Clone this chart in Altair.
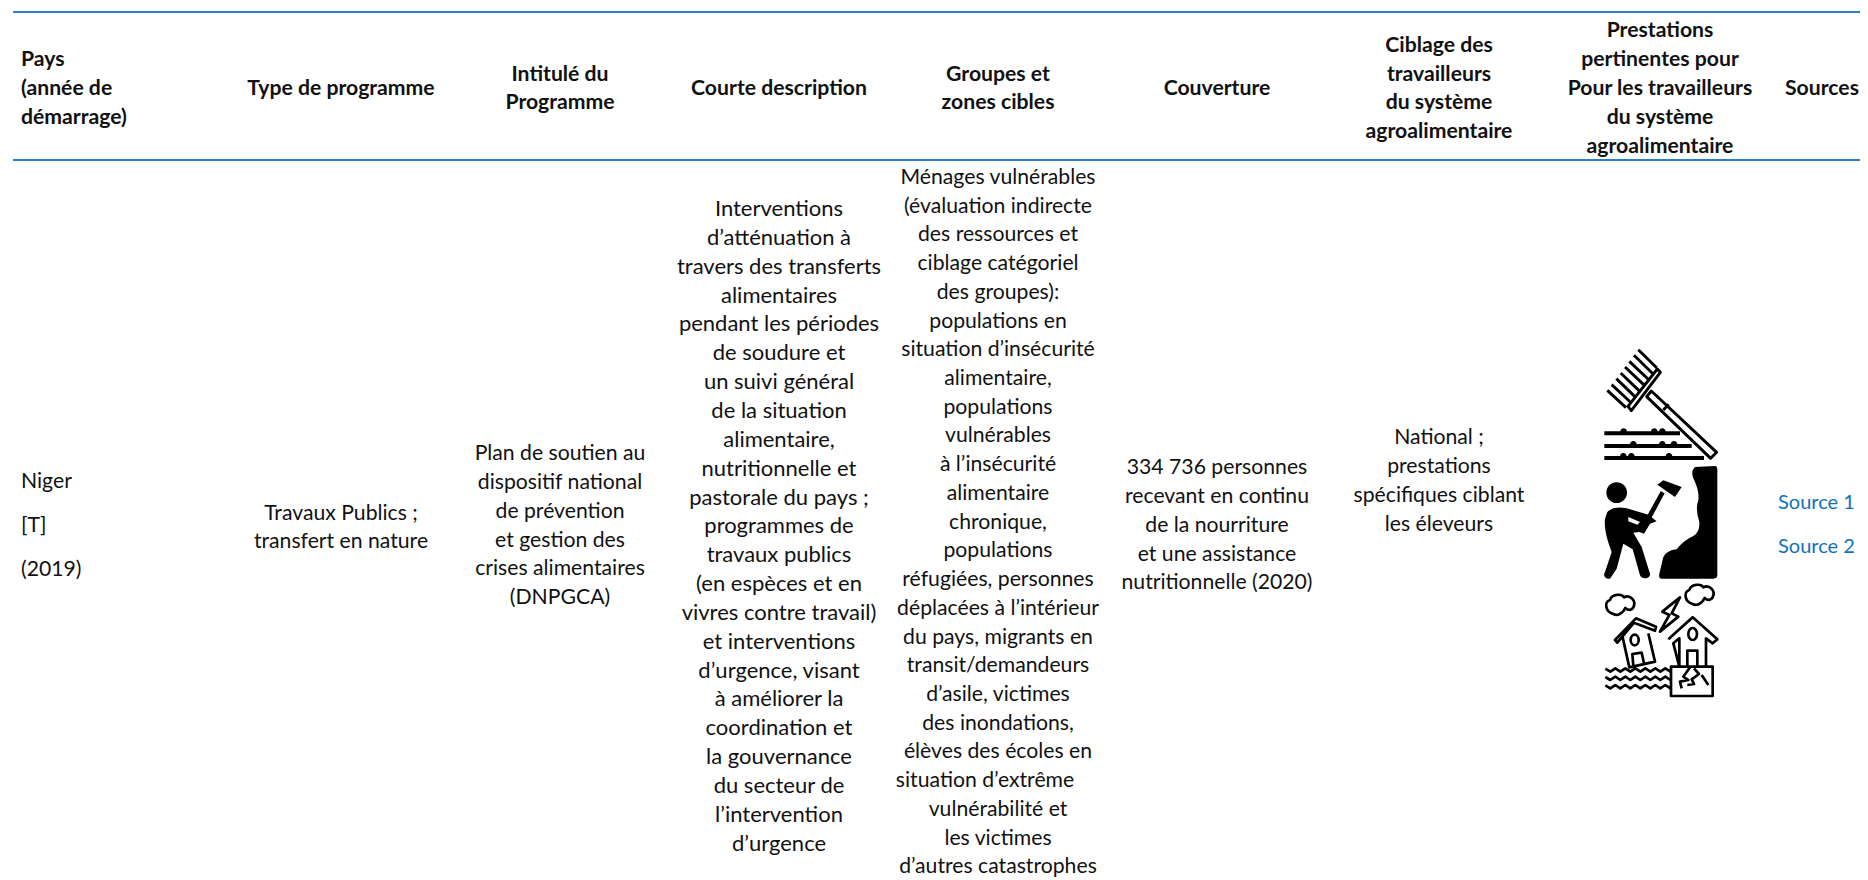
import altair as alt
import pandas as pd

# ---------- table content ----------
headers = [
    ["Pays", "(année de", "démarrage)"],
    ["Type de programme"],
    ["Intitulé du", "Programme"],
    ["Courte description"],
    ["Groupes et", "zones cibles"],
    ["Couverture"],
    ["Ciblage des", "travailleurs", "du système", "agroalimentaire"],
    ["Prestations", "pertinentes pour", "Pour les travailleurs", "du système", "agroalimentaire"],
    ["Sources"],
]
pays = ["Niger", "[T]", "(2019)"]
type_programme = ["Travaux Publics ;", "transfert en nature"]
intitule = ["Plan de soutien au", "dispositif national", "de prévention", "et gestion des",
            "crises alimentaires", "(DNPGCA)"]
description = ["Interventions", "d’atténuation à", "travers des transferts", "alimentaires",
               "pendant les périodes", "de soudure et", "un suivi général", "de la situation",
               "alimentaire,", "nutritionnelle et", "pastorale du pays ;", "programmes de",
               "travaux publics", "(en espèces et en", "vivres contre travail)", "et interventions",
               "d’urgence, visant", "à améliorer la", "coordination et", "la gouvernance",
               "du secteur de", "l’intervention", "d’urgence"]
groupes = ["Ménages vulnérables", "(évaluation indirecte", "des ressources et", "ciblage catégoriel",
           "des groupes):", "populations en", "situation d’insécurité", "alimentaire,", "populations",
           "vulnérables", "à l’insécurité", "alimentaire", "chronique,", "populations",
           "réfugiées, personnes", "déplacées à l’intérieur", "du pays, migrants en",
           "transit/demandeurs", "d’asile, victimes", "des inondations,", "élèves des écoles en",
           "situation d’extrême", "vulnérabilité et", "les victimes", "d’autres catastrophes"]
couverture = ["334 736 personnes", "recevant en continu", "de la nourriture",
              "et une assistance", "nutritionnelle (2020)"]
ciblage = ["National ;", "prestations", "spécifiques ciblant", "les éleveurs"]
sources = ["Source 1", "Source 2"]

# ---------- layout (page pixels) ----------
STEP = 28.85
FONT = "Lato"
FS = 21.2
INK = "#111111"
BLUE = "#2a7fc6"
LINK = "#0f71bb"
header_x = [21, 341, 560, 779, 998, 1217, 1439, 1660, 1822]
header_mid = 89


def block(lines, x, y0, step=STEP):
    return [{"x": x, "y": y0 + i * step, "t": t} for i, t in enumerate(lines)]


head_rows = []
for col, lines in enumerate(headers):
    y0 = header_mid - (len(lines) - 1) * STEP / 2
    head_rows += block(lines, header_x[col], y0)
head_left = pd.DataFrame([r for r in head_rows if r["x"] == 21])
head_mid = pd.DataFrame([r for r in head_rows if r["x"] != 21])

body_left = pd.DataFrame(block(pays, 21, 482, 44))
body_mid_rows = (
    block(type_programme, 341, 514, 28)
    + block(intitule, 560, 454)
    + block(groupes, 998, 178, 28.72)
    + block(couverture, 1217, 468)
    + block(ciblage, 1439, 438)
)
for r in body_mid_rows:
    if r["t"] == "situation d’extrême":
        r["x"] = 985
body_mid = pd.DataFrame(body_mid_rows)
body_desc = pd.DataFrame(block(description, 779, 209))
links = pd.DataFrame(block(sources, 1778, 503, 44))

X = alt.X("x:Q", scale=alt.Scale(domain=[8, 1860], nice=False, zero=False), axis=None)
Y = alt.Y("y:Q", scale=alt.Scale(domain=[880, 8], nice=False, zero=False), axis=None)


def text(df, align="center", bold=False, color=INK, size=FS):
    return alt.Chart(df).mark_text(
        font=FONT, fontSize=size, align=align, baseline="middle", color=color,
        fontWeight="bold" if bold else "normal",
    ).encode(x=X, y=Y, text="t:N")


rules = alt.Chart(pd.DataFrame({"x": [13, 13], "x2": [1860, 1860], "y": [12, 160]})).mark_rule(
    color=BLUE, strokeWidth=2
).encode(x=X, x2="x2:Q", y=Y)


# ---------- pictograms: SVG paths, 3 path units = 1 pixel ----------
def dot(x, y, r):
    return f"M{x-r} {y}a{r} {r} 0 1 1 {2*r} 0a{r} {r} 0 1 1 {-2*r} 0Z"


def ell(x, y, rx, ry):
    return f"M{x-rx} {y}a{rx} {ry} 0 1 1 {2*rx} 0a{rx} {ry} 0 1 1 {-2*rx} 0Z"


def zig(y, x0=16, x1=200, p=30):
    s = f"M{x0} {y-4}"
    x = x0
    up = False
    while x < x1:
        x += p / 2
        s += f"L{x} {y + (-5 if up else 5)}"
        up = not up
    return s


tines = "".join(
    f"M{115-93*i/7:.0f} {14+122*i/7:.0f}L{170-92*i/7:.0f} {68+120*i/7:.0f}" for i in range(8)
)
rake_stroke = (
    "M172 72L181 82L94 197L84 184Z"
    "M154 138L350 322L332 340L140 155Z"
    "M190 195L206 178"
    + tines
)
furrows = "M13 259H240V271H13ZM13 297H275V309H13ZM13 333H312V345H13Z"
clods = "".join(dot(x, y, 10) for x, y in [(71, 260), (163, 260), (187, 260),
                                            (100, 298), (187, 298), (222, 298),
                                            (70, 334), (94, 334), (207, 334)])
worker_head = dot(50, 92, 31)
worker_body = (
    "M22 150C40 132 70 135 90 142L145 158L170 178L150 185L132 215L118 210L100 212L125 255L150 335"
    "C152 350 125 355 120 340L98 262L70 245L50 320L30 350C15 352 8 340 15 330L35 270C20 230 12 200 15 170Z"
)
worker_handle = "M142 160L182 88L194 94L154 168Z"
worker_hammer = "M172 68L190 55L245 75L225 105Z"
rock = (
    "M285 15L345 12Q352 12 352 25L352 340Q352 350 340 350L185 350Q175 350 178 335L190 285"
    "Q200 265 230 262Q250 235 280 222Q300 210 298 180Q285 140 295 115Q298 90 285 60Q268 30 285 15Z"
)
worker_hole = "M85 165L120 180L112 188L85 178Z"
house_stroke = (
    "M40 102C15 95 12 65 30 60C35 42 65 40 72 52C90 42 110 62 100 82C95 92 85 92 76 84C66 104 50 108 40 102Z"
    "M278 72C253 65 250 35 268 30C273 12 303 10 310 22C328 12 348 32 338 52C333 62 323 62 314 54C304 74 288 78 278 72Z"
    "M240 52L187 95L208 105L180 155L235 110L215 100Z"
    "M52 188L102 128L165 152L168 140L108 115L45 180Z"
    "M68 172L88 262L165 245L145 160"
    "M100 258L97 222L125 218L132 250"
    + ell(104, 180, 12, 16)
    + "M205 178L278 112L352 178L338 190L318 175L318 260M238 260L238 175L220 190Z"
    + ell(278, 162, 13, 18)
    + "M262 260L262 212L292 212L292 260"
    "M213 260H338V348H213Z"
    "M270 262L250 290L265 300L240 305L245 325M282 265L297 282L275 298L282 312L262 315M305 285L325 315"
    + zig(270) + zig(295) + zig(320)
)
SCALE = (2 / 3) ** 2  # path units to pixels: sqrt(size) / 2 = 1/3


def glyph(path, ox, oy, fill=None, stroke=None, sw=2.5):
    kw = dict(shape=path, size=SCALE, opacity=1)
    if fill:
        kw.update(filled=True, fill=fill, strokeWidth=0)
    else:
        kw.update(filled=False, stroke=stroke, strokeWidth=sw, strokeJoin="round")
    return alt.Chart(pd.DataFrame({"x": [ox], "y": [oy]})).mark_point(**kw).encode(x=X, y=Y)


icons = [
    glyph(rake_stroke, 1600, 345, stroke="#000000", sw=2.9),
    glyph(furrows, 1600, 345, fill="#000000"),
    glyph(clods, 1600, 345, fill="#000000"),
    glyph(worker_head, 1600, 462, fill="#000000"),
    glyph(worker_body, 1600, 462, fill="#000000"),
    glyph(worker_handle, 1600, 462, fill="#000000"),
    glyph(worker_hammer, 1600, 462, fill="#000000"),
    glyph(rock, 1600, 462, fill="#000000"),
    glyph(worker_hole, 1600, 462, fill="#ffffff"),
    glyph(house_stroke, 1600, 580, stroke="#000000", sw=2.7),
]

chart = alt.layer(
    rules,
    text(head_left, "left", True),
    text(head_mid, "center", True),
    text(body_left, "left"),
    text(body_mid, "center"),
    text(body_desc, "center", size=22),
    text(links, "left", color=LINK, size=20),
    *icons,
).properties(
    width=1852, height=872, padding=0, autosize=alt.AutoSizeParams(type="none"),
    background="#ffffff",
).configure_view(stroke=None)

chart.save("out.html", embed_options={"renderer": "svg", "actions": False})
